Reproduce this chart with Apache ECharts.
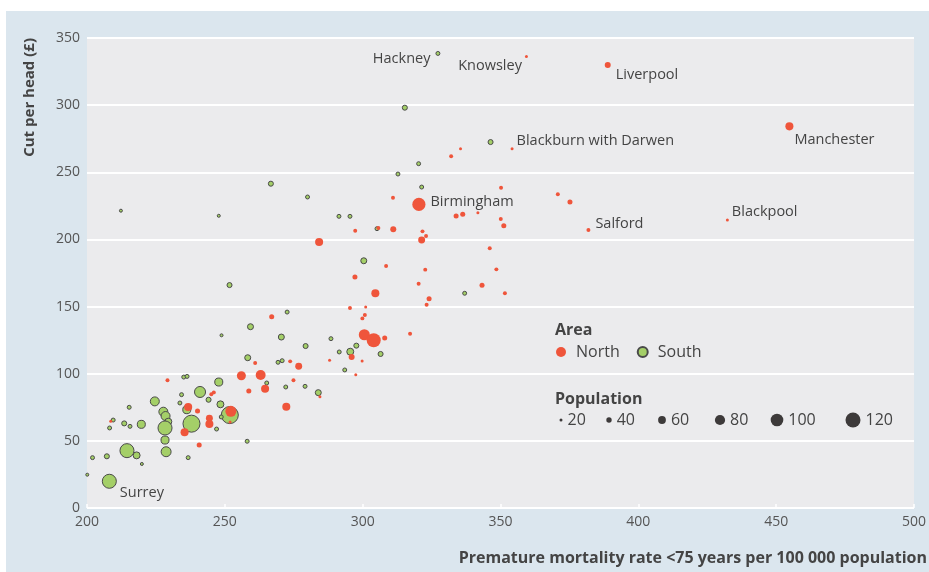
<!DOCTYPE html>
<html>
<head>
<meta charset="utf-8">
<script src="https://cdn.jsdelivr.net/npm/echarts@6/dist/echarts.min.js"></script>
<style>
  html, body {margin: 0; padding: 0; background: #fff;}
  #panel {position: absolute; left: 6px; top: 11px; width: 923px; height: 561px; background: #dbe6ee;}
  #chart {position: absolute; left: 0; top: 0; width: 929px; height: 572px;}
</style>
</head>
<body>
<div id="panel"></div>
<div id="chart"></div>
<script>
// [mortality rate, cut per head, population (10 000s), label]
const north = [
  [359.4, 336.3, 20, 'Knowsley'], [388.9, 329.9, 45, 'Liverpool'], [454.8, 284.2, 62, 'Manchester'],
  [354.2, 267.5, 20, 'Blackburn with Darwen'], [332.1, 261.9, 28], [335.5, 267.5, 20],
  [320.4, 226.1, 105, 'Birmingham'], [381.9, 207.0, 28, 'Salford'], [432.3, 214.4, 20, 'Blackpool'],
  [350.2, 238.5, 28], [370.8, 233.6, 28], [375.2, 227.8, 37], [333.9, 217.4, 37], [336.3, 218.7, 37],
  [341.8, 219.9, 20], [350.1, 215.2, 28], [351.2, 210.2, 37], [311.0, 231.0, 28], [346.1, 193.4, 28],
  [348.5, 177.7, 28], [343.3, 165.8, 37], [351.6, 159.9, 28], [305.7, 208.5, 28], [297.3, 206.5, 28],
  [311.1, 207.5, 45], [321.7, 206.0, 28], [323.0, 202.5, 28], [321.4, 199.6, 53], [284.2, 198.1, 62],
  [308.5, 180.2, 28], [322.7, 177.5, 28], [297.2, 172.0, 37], [320.3, 167.0, 28], [304.6, 159.9, 62],
  [324.1, 155.9, 37], [323.2, 151.4, 28], [267.0, 142.4, 37], [295.4, 148.9, 28], [301.1, 149.7, 20],
  [300.8, 143.7, 28], [299.9, 141.2, 28], [300.6, 129.0, 87], [304.0, 124.9, 112], [308.0, 126.6, 37],
  [317.2, 129.8, 28], [261.0, 108.0, 28], [273.7, 109.2, 28], [276.8, 105.5, 53], [256.0, 98.5, 70],
  [263.0, 99.0, 78], [274.9, 95.1, 28], [264.6, 88.8, 62], [258.7, 87.1, 37], [272.3, 75.4, 62],
  [229.2, 95.1, 28], [246.0, 86.1, 28], [245.1, 84.7, 28], [236.7, 75.2, 62], [240.1, 72.2, 37],
  [252.2, 72.0, 87], [208.6, 64.6, 20], [244.4, 66.8, 53], [244.4, 62.5, 62], [235.4, 56.4, 62],
  [251.9, 64.0, 20], [240.7, 46.9, 37], [296.0, 112.4, 45], [288.0, 110.0, 20], [299.8, 109.5, 20],
  [297.5, 99.3, 20], [284.5, 82.9, 20]
];
const south = [
  [327.3, 338.5, 28, 'Hackney'], [315.3, 298.1, 37], [346.4, 272.5, 37], [320.3, 256.4, 28],
  [312.8, 248.7, 28], [266.7, 241.5, 37], [280.0, 231.6, 28], [321.4, 239.0, 28], [212.3, 221.4, 20],
  [247.8, 217.6, 20], [291.4, 217.2, 28], [295.4, 217.2, 28], [305.2, 208.0, 28], [300.4, 184.1, 45],
  [251.7, 166.0, 37], [337.0, 159.9, 28], [272.6, 145.9, 28], [259.3, 135.0, 45], [248.8, 128.6, 20],
  [270.5, 127.3, 45], [279.3, 120.6, 37], [288.5, 126.1, 28], [258.3, 111.9, 45], [269.3, 108.5, 28],
  [270.8, 109.7, 28], [291.5, 116.2, 28], [297.7, 120.9, 37], [295.5, 116.4, 53], [306.5, 114.7, 37],
  [293.5, 102.8, 28], [283.9, 85.9, 45], [265.2, 93.1, 28], [272.1, 90.1, 28], [279.1, 90.6, 28],
  [235.1, 97.5, 28], [236.3, 98.0, 28], [247.8, 93.8, 62], [241.0, 86.4, 87], [234.3, 84.4, 28],
  [244.1, 80.6, 37], [224.6, 79.4, 70], [233.7, 78.2, 28], [215.3, 75.0, 28], [248.4, 77.2, 53],
  [227.7, 71.7, 70], [228.5, 68.5, 70], [236.2, 73.2, 62], [229.5, 64.3, 53], [251.8, 69.2, 137],
  [237.9, 62.8, 137], [228.3, 59.6, 112], [219.7, 62.3, 62], [213.5, 63.0, 37], [209.5, 65.5, 28],
  [215.6, 60.8, 28], [208.2, 59.6, 28], [248.7, 67.8, 28], [247.0, 58.8, 28], [228.3, 50.6, 62],
  [228.7, 41.9, 78], [214.5, 42.7, 112], [218.0, 39.2, 53], [207.2, 38.5, 37], [202.0, 37.5, 28],
  [219.9, 32.8, 20], [236.7, 37.5, 28], [200.1, 24.8, 20], [208.1, 19.9, 112, 'Surrey'], [258.1, 49.7, 28]
];
const popLegend = [20, 40, 60, 80, 100, 120];

const FONT = '"Open Sans", "DejaVu Sans", sans-serif';
const RED = '#ef553b';
const GREEN = '#a4cf68';
const TEXT = '#444';

// where each label sits relative to its point
const labelPos = {
  'Hackney': ['left', [0, 5]],
  'Knowsley': ['left', [2, 9]],
  'Liverpool': ['right', [0, 10]],
  'Blackburn with Darwen': ['right', [-2, -8]],
  'Manchester': ['right', [-4, 14]],
  'Birmingham': ['right', [0, -3]],
  'Salford': ['right', [0, -6]],
  'Blackpool': ['right', [-2, -8]],
  'Surrey': ['right', [-2, 12]]
};

function sizeOf(pop) {
  return 3 + (pop - 20) * 0.12;
}

function toItems(rows) {
  return rows.map(r => {
    const item = {value: [r[0], r[1], r[2]]};
    if (r[3]) {
      const p = labelPos[r[3]];
      item.name = r[3];
      item.label = {
        show: true, formatter: r[3], position: p[0], offset: p[1],
        color: TEXT, fontSize: 14.5, fontFamily: FONT
      };
    }
    return item;
  });
}

const chart = echarts.init(document.getElementById('chart'));

// population key
const popGraphics = [];
const popX = [561, 609, 662, 720, 777, 853];
popLegend.forEach((p, i) => {
  popGraphics.push({
    type: 'circle', shape: {cx: popX[i], cy: 420, r: sizeOf(p) / 2},
    style: {fill: '#3d3a3a'}
  });
  popGraphics.push({
    type: 'text', x: popX[i] + sizeOf(p) / 2 + 5, y: 420,
    style: {text: String(p), fill: TEXT, font: '16px ' + FONT, textVerticalAlign: 'middle'}
  });
});

const option = {
  animation: false,
  grid: {
    left: 87, right: 14, top: 38, bottom: 64,
    show: true, backgroundColor: '#ebebed', borderWidth: 0
  },
  xAxis: {
    type: 'value', min: 200, max: 500, interval: 50,
    splitLine: {show: false},
    axisLine: {show: false},
    axisTick: {show: true, inside: true, length: 4, lineStyle: {color: '#fff', width: 1.5}},
    axisLabel: {color: '#555', fontSize: 14, margin: 7, fontFamily: FONT}
  },
  yAxis: {
    type: 'value', min: 0, max: 350, interval: 50,
    splitLine: {show: true, lineStyle: {color: '#fff', width: 2}},
    axisLine: {show: false},
    axisTick: {show: true, inside: true, length: 3, lineStyle: {color: '#fff', width: 1.5}},
    axisLabel: {color: '#555', fontSize: 14, margin: 7, fontFamily: FONT}
  },
  legend: {
    left: 556, top: 344, orient: 'horizontal',
    icon: 'circle', itemWidth: 20, itemHeight: 10, itemGap: 17, padding: 0,
    textStyle: {color: TEXT, fontSize: 16, fontFamily: FONT},
    data: ['North', 'South']
  },
  series: [
    {
      name: 'South', type: 'scatter',
      symbolSize: d => sizeOf(d[2]),
      itemStyle: {color: GREEN, borderColor: '#4a4a4a', borderWidth: 1, opacity: 1},
      data: toItems(south)
    },
    {
      name: 'North', type: 'scatter',
      symbolSize: d => sizeOf(d[2]),
      itemStyle: {color: RED, opacity: 1},
      data: toItems(north)
    }
  ],
  graphic: [
    {
      type: 'text', x: 30, y: 38, rotation: Math.PI / 2,
      style: {text: 'Cut per head (£)', fill: TEXT, font: 'bold 15px ' + FONT,
        textAlign: 'right', textVerticalAlign: 'middle'}
    },
    {
      type: 'text', x: 927, y: 558,
      style: {text: 'Premature mortality rate <75 years per 100 000 population', fill: TEXT,
        font: 'bold 16px ' + FONT, textAlign: 'right', textVerticalAlign: 'middle'}
    },
    {
      type: 'text', x: 555, y: 330,
      style: {text: 'Area', fill: TEXT, font: 'bold 16px ' + FONT, textVerticalAlign: 'middle'}
    },
    {
      type: 'text', x: 555, y: 399,
      style: {text: 'Population', fill: TEXT, font: 'bold 16px ' + FONT, textVerticalAlign: 'middle'}
    }
  ].concat(popGraphics)
};

chart.setOption(option);
</script>
</body>
</html>
